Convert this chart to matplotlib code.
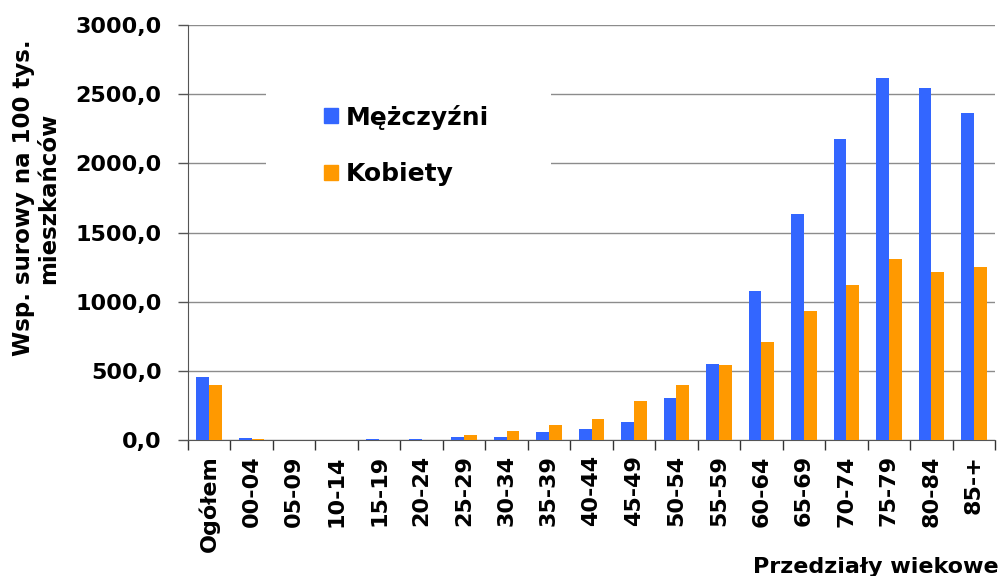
import numpy as np
import matplotlib.pyplot as plt
from matplotlib.patches import Patch, Rectangle

# dane
kategorie = ['Ogółem', '00-04', '05-09', '10-14', '15-19', '20-24', '25-29', '30-34',
             '35-39', '40-44', '45-49', '50-54', '55-59', '60-64', '65-69', '70-74',
             '75-79', '80-84', '85-+']
mezczyzni = [456, 15, 2, 2, 7, 7, 25, 25, 59, 81, 130, 304, 550, 1078, 1637, 2174, 2620, 2543, 2363]
kobiety = [400, 7, 1, 1, 2, 3, 39, 66, 105, 154, 279, 400, 540, 706, 935, 1119, 1307, 1213, 1251]
y_ticks = [0, 500, 1000, 1500, 2000, 2500, 3000]

plt.rcParams['font.family'] = ['DejaVu Sans']

fig = plt.figure(figsize=(10.08, 5.76), dpi=100)
ax = fig.add_axes([188 / 1008, 1 - 440 / 576, 807 / 1008, 415 / 576])

x = np.arange(len(kategorie))
ax.bar(x - 0.15, mezczyzni, width=0.3, color='#3366FF', zorder=3)
ax.bar(x + 0.15, kobiety, width=0.3, color='#FF9900', zorder=3)

ax.set_xlim(-0.5, len(kategorie) - 0.5)
ax.set_ylim(0, 3000)

# siatka
ax.set_yticks(y_ticks)
ax.set_yticklabels([f'{v:.1f}'.replace('.', ',') for v in y_ticks],
                   fontsize=16, fontweight='bold')
ax.yaxis.grid(True, color='#8c8c8c', linewidth=1, zorder=0)
ax.tick_params(axis='y', length=7, width=1, color='#555555', pad=12)

ax.set_xticks(x)
ax.set_xticklabels(kategorie, rotation=90, fontsize=16, fontweight='bold')
ax.set_xticks(np.arange(-0.5, len(kategorie)), minor=True)
ax.tick_params(axis='x', which='major', length=0, pad=11)
ax.tick_params(axis='x', which='minor', length=7, width=1, color='#333333')

for s in ['top', 'right']:
    ax.spines[s].set_visible(False)
ax.spines['left'].set_color('#555555')
ax.spines['bottom'].set_color('#555555')

# tło legendy
fig.patches.append(Rectangle((266 / 1008, 1 - 190 / 576), 285 / 1008, 112 / 576,
                             transform=fig.transFigure, facecolor='white',
                             edgecolor='none', zorder=1))
handles = [Patch(color='#3366FF'), Patch(color='#FF9900')]
fig.legend(handles, ['Mężczyźni', 'Kobiety'], loc='upper left',
           bbox_to_anchor=(301 / 1008, 1 - 82 / 576), frameon=False,
           prop={'size': 18, 'weight': 'bold'}, handlelength=0.56, handleheight=0.56,
           handletextpad=0.32, labelspacing=1.3)

fig.text(36 / 1008, 1 - 198 / 576, 'Wsp. surowy na 100 tys.\nmieszkańców',
         rotation=90, ha='center', va='center', fontsize=16.5, fontweight='bold',
         multialignment='center', linespacing=1.1)
fig.text(753 / 1008, 1 - 573 / 576, 'Przedziały wiekowe', ha='left', va='baseline',
         fontsize=16, fontweight='bold')

fig.savefig('out.png', dpi=100)
